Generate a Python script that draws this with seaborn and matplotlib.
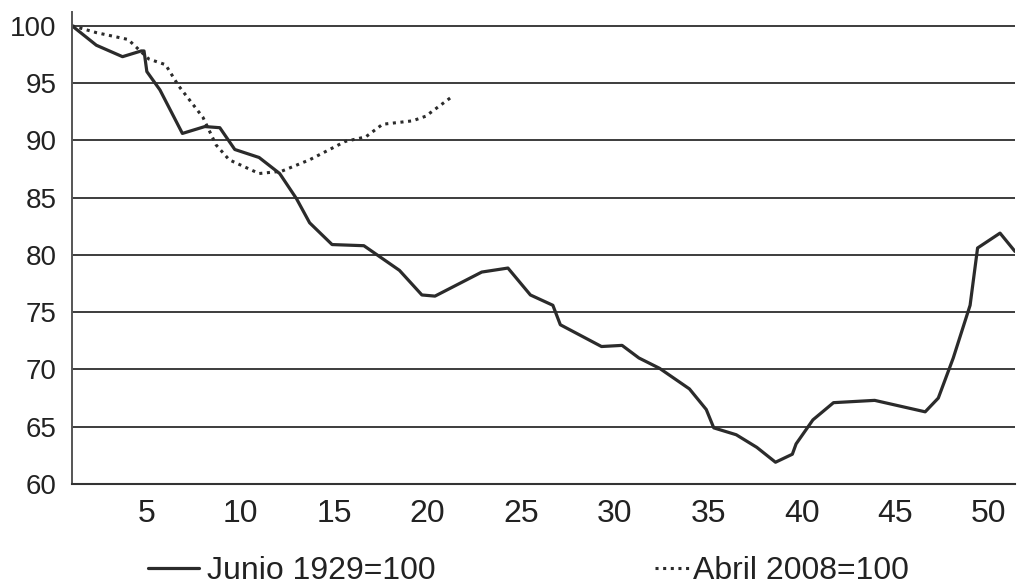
import numpy as np
import pandas as pd
import matplotlib
matplotlib.use("Agg")
import matplotlib.pyplot as plt
from matplotlib.ticker import MultipleLocator
import seaborn as sns

# values
junio_x = [1, 2.3, 3.7, 4.7, 4.85, 5.0, 5.7, 6.9, 8.1, 8.9, 9.7, 11.0, 12.1, 13.0,
           13.7, 14.9, 16.6, 18.5, 19.7, 20.4, 22.9, 24.3, 25.5, 26.7, 27.1, 29.3,
           30.4, 31.3, 32.4, 34.0, 34.9, 35.3, 36.5, 37.6, 38.6, 39.5, 39.7, 40.6,
           41.7, 43.9, 46.6, 47.3, 48.1, 49.0, 49.4, 50.6, 51.4]
junio_y = [100, 98.3, 97.3, 97.8, 97.8, 96.0, 94.4, 90.6, 91.2, 91.1, 89.2, 88.5,
           87.1, 84.9, 82.8, 80.9, 80.8, 78.65, 76.5, 76.4, 78.5, 78.85, 76.5, 75.6,
           73.9, 72.0, 72.1, 71.0, 70.1, 68.3, 66.5, 64.9, 64.3, 63.2, 61.9, 62.6,
           63.5, 65.6, 67.1, 67.3, 66.3, 67.5, 71.0, 75.6, 80.6, 81.9, 80.3]

abril_x = [1, 2.3, 4.0, 5.1, 6.0, 6.7, 8.0, 8.7, 9.4, 11.0, 12.2, 13.7, 15.6, 16.7,
           17.6, 19.2, 19.9, 21.3]
abril_y = [100, 99.4, 98.8, 97.1, 96.6, 94.75, 92.0, 89.6, 88.3, 87.1, 87.3, 88.3,
           89.9, 90.3, 91.4, 91.7, 92.1, 93.8]

y_ticks = [60, 65, 70, 75, 80, 85, 90, 95, 100]
x_ticks = [5, 10, 15, 20, 25, 30, 35, 40, 45, 50]

sns.set_style("white")
plt.rcParams['font.family'] = ['Liberation Sans', 'DejaVu Sans']

fig = plt.figure(figsize=(10.19, 5.84), dpi=100)
ax = fig.add_axes([72 / 1019, 100 / 584, (1015 - 72) / 1019, (572 - 100) / 584])

line_col = "#2b2b2b"
sns.lineplot(x=junio_x, y=junio_y, ax=ax, color=line_col, lw=2.3, sort=False,
             label="Junio 1929=100")
sns.lineplot(x=abril_x, y=abril_y, ax=ax, color=line_col, lw=2.2, sort=False,
             linestyle=(0, (1, 1.5)), label="Abril 2008=100")

ax.set_xlim(1, 51.4)
ax.set_ylim(60, 101.2)

# horizontal grid lines
for v in y_ticks[1:]:
    ax.axhline(v, color="#3c3c3c", lw=1.4, zorder=0)

ax.set_yticks(y_ticks)
ax.set_xticks(x_ticks)
ax.xaxis.set_minor_locator(MultipleLocator(1))
ax.tick_params(axis="y", length=0, pad=11, labelsize=20, colors="#222222")
ax.tick_params(axis="x", which="major", direction="out", length=6, width=1.3,
               pad=5, labelsize=23, colors="#222222")
ax.tick_params(axis="x", which="minor", direction="out", length=4, width=1.2,
               colors="#444444")
ax.set_xlabel("")
ax.set_ylabel("")

for s in ["top", "right"]:
    ax.spines[s].set_visible(False)
ax.spines["left"].set_color("#555555")
ax.spines["left"].set_linewidth(1.4)
ax.spines["bottom"].set_color("#333333")
ax.spines["bottom"].set_linewidth(1.5)

handles, labels = ax.get_legend_handles_labels()
ax.get_legend().remove()
# two separate legend entries, placed like the original
fig.legend([handles[0]], [labels[0]], loc="center left",
           bbox_to_anchor=(148 / 1019, 13 / 584), frameon=False, fontsize=23,
           handlelength=1.6, handletextpad=0.25, borderpad=0, borderaxespad=0,
           labelcolor="#222222")
fig.legend([handles[1]], [labels[1]], loc="center left",
           bbox_to_anchor=(655 / 1019, 13 / 584), frameon=False, fontsize=23,
           handlelength=1.1, handletextpad=0.1, borderpad=0, borderaxespad=0,
           labelcolor="#222222")

fig.savefig("out.png", dpi=100)
